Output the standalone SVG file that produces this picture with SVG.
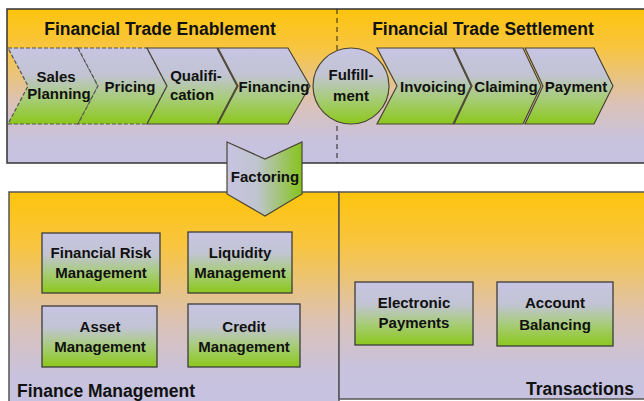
<svg xmlns="http://www.w3.org/2000/svg" width="644" height="401" viewBox="0 0 644 401">
<defs>
<linearGradient id="panel" x1="0" y1="0" x2="0" y2="1">
<stop offset="0" stop-color="#fdc40c"/>
<stop offset="0.25" stop-color="#f8c540"/>
<stop offset="0.6" stop-color="#dcc2b4"/>
<stop offset="0.85" stop-color="#c8c2de"/>
<stop offset="1" stop-color="#c6c2e0"/>
</linearGradient>
<linearGradient id="node" x1="0" y1="0" x2="0" y2="1">
<stop offset="0" stop-color="#c7c4e2"/>
<stop offset="0.35" stop-color="#c2c4d4"/>
<stop offset="0.65" stop-color="#a8cc7c"/>
<stop offset="1" stop-color="#8cc81c"/>
</linearGradient>
<linearGradient id="nodeH" x1="0" y1="0" x2="1" y2="0">
<stop offset="0" stop-color="#c7c4e2"/>
<stop offset="0.4" stop-color="#c0c4d0"/>
<stop offset="1" stop-color="#86c41c"/>
</linearGradient>
</defs>
<style>
.panel{fill:url(#panel);stroke:#333;stroke-width:1.5}
.bpanel{fill:url(#panel);stroke:#555;stroke-width:1.5}
.chev{fill:url(#node);stroke:#4a4535;stroke-width:1.2}
.dash{stroke-dasharray:4 2;stroke:#555}
.box{fill:url(#node);stroke:#3c3c3c;stroke-width:1.3}
text{font-family:"Liberation Sans",Arial,sans-serif;font-weight:bold;fill:#111;text-anchor:middle}
.lbl{font-size:15px}
.head{font-size:17.5px}
</style>
<g id="enablement-panel">
<rect class="panel" x="7" y="9" width="645" height="154"/>
<line x1="337" y1="9" x2="337" y2="163" stroke="#222" stroke-width="1" stroke-dasharray="5 4"/>
<text class="head" x="160" y="35">Financial Trade Enablement</text>
<text class="head" x="483" y="35">Financial Trade Settlement</text>
</g>
<g id="finance-management">
<rect class="bpanel" x="9" y="192" width="330" height="215"/>
<text class="head" x="17" y="397" style="text-anchor:start">Finance Management</text>
</g>
<g id="transactions">
<rect class="bpanel" x="339" y="192" width="310" height="207"/>
<text class="head" x="634" y="395" style="text-anchor:end">Transactions</text>
</g>
<g id="sales-planning">
<polygon class="chev dash" points="8,48 78,48 98,86 78,124 8,124 28,86"/>
<text class="lbl" x="56" y="82">Sales</text>
<text class="lbl" x="59" y="99">Planning</text>
</g>
<g id="pricing">
<polygon class="chev dash" points="78,48 147,48 167,86 147,124 78,124 98,86"/>
<text class="lbl" x="130" y="92">Pricing</text>
</g>
<g id="qualification">
<polygon class="chev" points="147,48 217,48 237,86 217,124 147,124 167,86"/>
<text class="lbl" x="196" y="81">Qualifi-</text>
<text class="lbl" x="192" y="100">cation</text>
</g>
<g id="financing">
<polygon class="chev" points="218,48 288,48 310,86 288,124 218,124 238,86"/>
<text class="lbl" x="274" y="92">Financing</text>
</g>
<g id="fulfillment">
<circle cx="351" cy="86" r="38" fill="url(#node)" stroke="#4a4535" stroke-width="1.2"/>
<text class="lbl" x="351" y="80">Fulfill-</text>
<text class="lbl" x="351" y="101">ment</text>
</g>
<g id="invoicing">
<polygon class="chev" points="377,48 453,48 471,86 453,124 377,124 397,86"/>
<text class="lbl" x="433" y="92">Invoicing</text>
</g>
<g id="claiming">
<polygon class="chev" points="454,48 523,48 541,86 523,124 454,124 472,86"/>
<text class="lbl" x="506" y="92">Claiming</text>
</g>
<g id="payment">
<polygon class="chev" points="525,48 594,48 613,86 594,124 525,124 543,86"/>
<text class="lbl" x="576" y="92">Payment</text>
</g>
<g id="factoring">
<polygon points="227,142 265,159 302,142 302,194 265,216 227,194" fill="url(#nodeH)" stroke="#4a4535" stroke-width="1.2"/>
<text class="lbl" x="265" y="182">Factoring</text>
</g>
<g id="financial-risk-management">
<rect class="box" x="42" y="233" width="118" height="60"/>
<text class="lbl" x="101" y="258">Financial Risk</text>
<text class="lbl" x="101" y="278">Management</text>
</g>
<g id="liquidity-management">
<rect class="box" x="188" y="232" width="104" height="61"/>
<text class="lbl" x="240" y="258">Liquidity</text>
<text class="lbl" x="240" y="278">Management</text>
</g>
<g id="asset-management">
<rect class="box" x="42" y="306" width="115" height="61"/>
<text class="lbl" x="100" y="332">Asset</text>
<text class="lbl" x="100" y="352">Management</text>
</g>
<g id="credit-management">
<rect class="box" x="188" y="304" width="112" height="63"/>
<text class="lbl" x="244" y="332">Credit</text>
<text class="lbl" x="244" y="352">Management</text>
</g>
<g id="electronic-payments">
<rect class="box" x="355" y="282" width="118" height="63"/>
<text class="lbl" x="414" y="308">Electronic</text>
<text class="lbl" x="414" y="328">Payments</text>
</g>
<g id="account-balancing">
<rect class="box" x="497" y="282" width="116" height="64"/>
<text class="lbl" x="555" y="308">Account</text>
<text class="lbl" x="555" y="330">Balancing</text>
</g>
<g id="connectors"></g>
</svg>
